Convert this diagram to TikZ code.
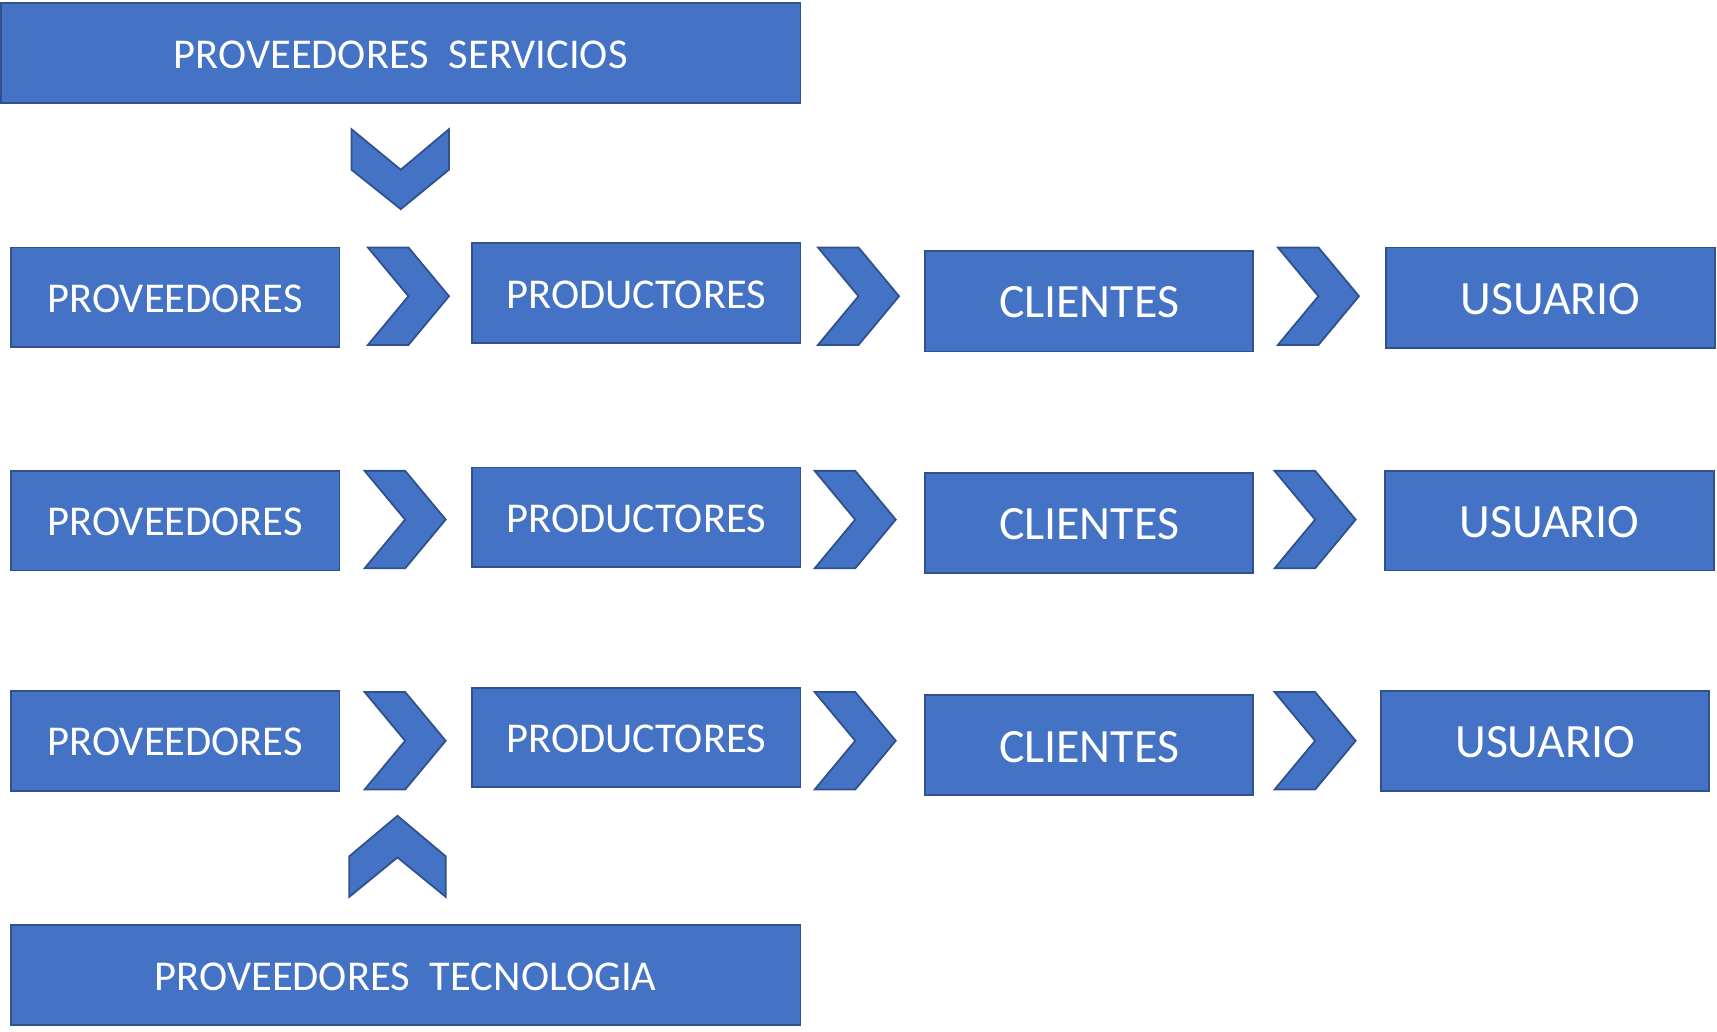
\documentclass[tikz,border=0pt]{standalone}
\usepackage{fontspec}
\setmainfont{Carlito}
\usetikzlibrary{fit}
\definecolor{boxfill}{HTML}{4472C4}
\definecolor{boxline}{HTML}{2F528F}
\tikzset{
  box/.style={draw=boxline, fill=boxfill, line width=1.8pt, inner sep=0pt},
  txt/.style={text=white, inner sep=0pt, yshift=-1.5pt, font=\fontsize{42.5}{50}\selectfont},
  bigtxt/.style={text=white, inner sep=0pt, yshift=-1.5pt, font=\fontsize{47.8}{56}\selectfont},
  chev/.style={draw=boxline, fill=boxfill, line width=1.8pt, line join=miter}
}
\begin{document}
\begin{tikzpicture}[x=1.0951pt,y=-1.0951pt]
\useasboundingbox (0,0) rectangle (1568,942);
% top and bottom
\node[box, fit={(1,3) (731,94)}] (serv) {};
\node[txt] (servt) at (serv.center) {PROVEEDORES\hspace{20pt}SERVICIOS};
\node[box, fit={(10,845) (731,936)}] (tec) {};
\node[txt] (tect) at (tec.center) {PROVEEDORES\hspace{20pt}TECNOLOGIA};
% vertical chevrons
\draw[chev] (321,118) -- (366,155) -- (410,118) -- (410,155) -- (366,191) -- (321,155) -- cycle;
\draw[chev] (319,782) -- (363,745) -- (407,782) -- (407,819) -- (363,783) -- (319,819) -- cycle;
% row 1
\node[box, fit={(10,226) (310,317)}] (prov1) {};
\node[txt] at (prov1.center) {PROVEEDORES};
\node[box, fit={(431,222) (731,313)}] (prod1) {};
\node[txt] at (prod1.center) {PRODUCTORES};
\node[box, fit={(845,229) (1144,321)}] (cli1) {};
\node[bigtxt] at (cli1.center) {CLIENTES};
\node[box, fit={(1266,226) (1566,318)}] (usu1) {};
\node[bigtxt] at (usu1.center) {USUARIO};
\draw[chev, shift={(336,226)}] (0,0) -- (37,0) -- (74,44.5) -- (37,89) -- (0,89) -- (37,44.5) -- cycle;
\draw[chev, shift={(747,226)}] (0,0) -- (37,0) -- (74,44.5) -- (37,89) -- (0,89) -- (37,44.5) -- cycle;
\draw[chev, shift={(1167,226)}] (0,0) -- (37,0) -- (74,44.5) -- (37,89) -- (0,89) -- (37,44.5) -- cycle;
% row 2
\node[box, fit={(10,430) (310,521)}] (prov2) {};
\node[txt] at (prov2.center) {PROVEEDORES};
\node[box, fit={(431,427) (731,518)}] (prod2) {};
\node[txt] at (prod2.center) {PRODUCTORES};
\node[box, fit={(845,432) (1144,523)}] (cli2) {};
\node[bigtxt] at (cli2.center) {CLIENTES};
\node[box, fit={(1265,430) (1565,521)}] (usu2) {};
\node[bigtxt] at (usu2.center) {USUARIO};
\draw[chev, shift={(333,430)}] (0,0) -- (37,0) -- (74,44.5) -- (37,89) -- (0,89) -- (37,44.5) -- cycle;
\draw[chev, shift={(744,430)}] (0,0) -- (37,0) -- (74,44.5) -- (37,89) -- (0,89) -- (37,44.5) -- cycle;
\draw[chev, shift={(1164,430)}] (0,0) -- (37,0) -- (74,44.5) -- (37,89) -- (0,89) -- (37,44.5) -- cycle;
% row 3
\node[box, fit={(10,631) (310,722)}] (prov3) {};
\node[txt] at (prov3.center) {PROVEEDORES};
\node[box, fit={(431,628) (731,719)}] (prod3) {};
\node[txt] at (prod3.center) {PRODUCTORES};
\node[box, fit={(845,635) (1144,726)}] (cli3) {};
\node[bigtxt] at (cli3.center) {CLIENTES};
\node[box, fit={(1261,631) (1561,722)}] (usu3) {};
\node[bigtxt] at (usu3.center) {USUARIO};
\draw[chev, shift={(333,632)}] (0,0) -- (37,0) -- (74,44.5) -- (37,89) -- (0,89) -- (37,44.5) -- cycle;
\draw[chev, shift={(744,632)}] (0,0) -- (37,0) -- (74,44.5) -- (37,89) -- (0,89) -- (37,44.5) -- cycle;
\draw[chev, shift={(1164,632)}] (0,0) -- (37,0) -- (74,44.5) -- (37,89) -- (0,89) -- (37,44.5) -- cycle;
\end{tikzpicture}
\end{document}
